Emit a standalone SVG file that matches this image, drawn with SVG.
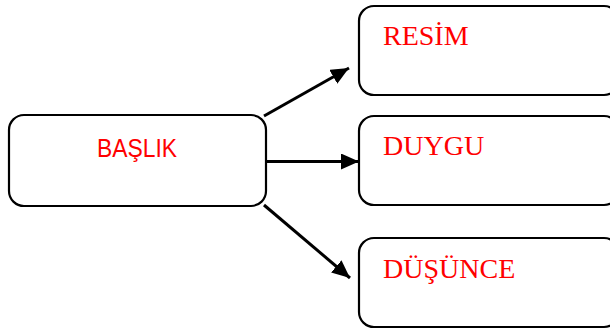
<svg xmlns="http://www.w3.org/2000/svg" width="610" height="332" viewBox="0 0 610 332">
<style>
.box{fill:#fff;stroke:#000;stroke-width:2.2}
.conn{stroke:#000;stroke-width:3;fill:none}
.t{fill:#ff0000;font-family:"Liberation Serif","Times New Roman",serif;font-size:28px}
.ts{fill:#ff0000;font-family:"Liberation Sans",Arial,sans-serif;font-size:25px}
</style>
<defs>
<marker id="ah" markerUnits="userSpaceOnUse" markerWidth="18" markerHeight="16" refX="18" refY="8" orient="auto">
<path d="M0,0 L18,8 L0,16 Z" fill="#000"/>
</marker>
</defs>
<rect width="610" height="332" fill="#fff"/>
<g id="connectors">
<line class="conn" x1="264" y1="116" x2="349" y2="68" marker-end="url(#ah)"/>
<line class="conn" x1="266" y1="161.5" x2="359" y2="161.5" marker-end="url(#ah)"/>
<line class="conn" x1="264" y1="205" x2="350" y2="278" marker-end="url(#ah)"/>
</g>
<g id="baslik">
<rect class="box" x="9" y="115" width="257" height="91" rx="15"/>
<text class="ts" x="137" y="157" text-anchor="middle" textLength="80" lengthAdjust="spacingAndGlyphs">BAŞLIK</text>
</g>
<g id="resim">
<rect class="box" x="359" y="6" width="260" height="89" rx="15"/>
<text class="t" x="383" y="45">RESİM</text>
</g>
<g id="duygu">
<rect class="box" x="359" y="116" width="260" height="89" rx="15"/>
<text class="t" x="383" y="155">DUYGU</text>
</g>
<g id="dusunce">
<rect class="box" x="359" y="238" width="260" height="89" rx="15"/>
<text class="t" x="383" y="278">DÜŞÜNCE</text>
</g>
</svg>
